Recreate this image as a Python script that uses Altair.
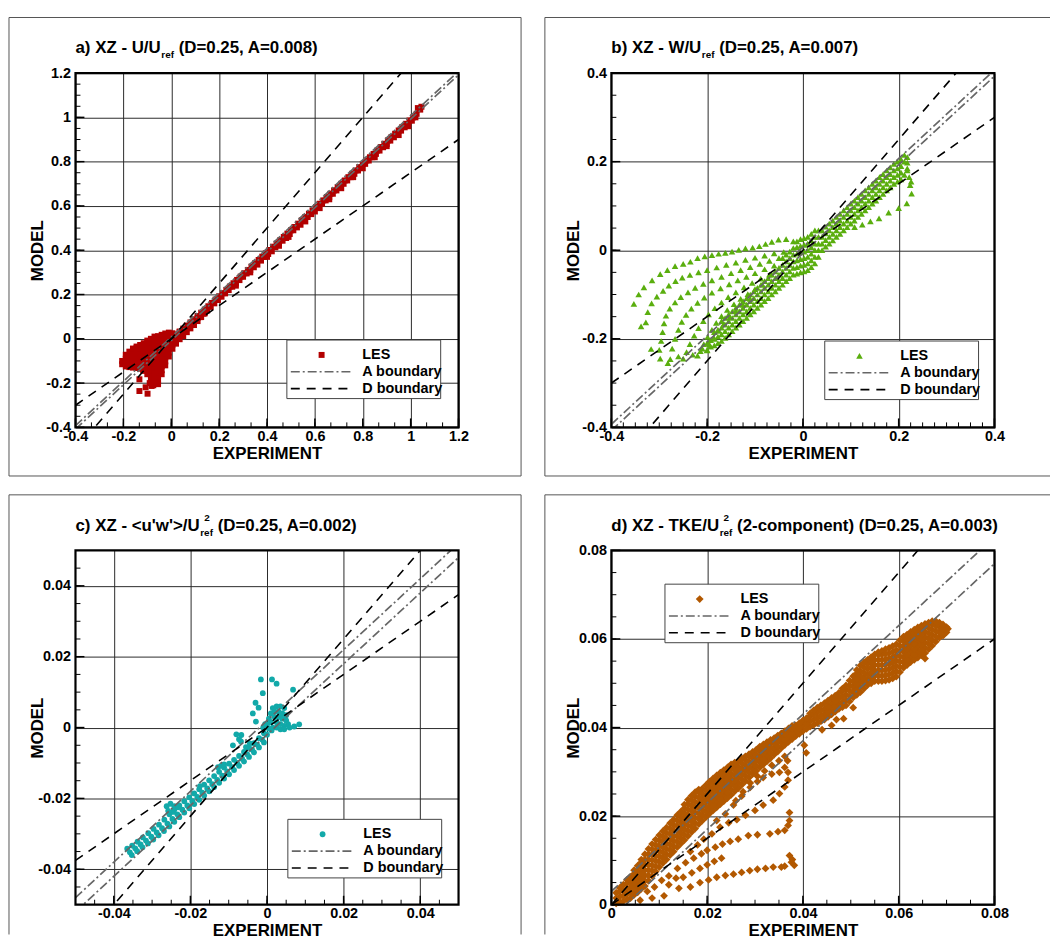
import altair as alt
import pandas as pd

FONT = "Liberation Sans"
W, H = 386, 357

# ---------------- tick label values ----------------
A_MAJOR = [-0.4, -0.2, 0, 0.2, 0.4, 0.6, 0.8, 1, 1.2]
B_MAJOR = [-0.4, -0.2, 0, 0.2, 0.4]
C_MAJOR = [-0.04, -0.02, 0, 0.02, 0.04]
D_MAJOR = [0, 0.02, 0.04, 0.06, 0.08]

# ---------------- panel a : U/Uref ----------------
A_BAND = [(0.02,0.02),(0.035,0.033),(0.05,0.046),(0.065,0.06),(0.08,0.074),(0.095,0.088),(0.11,0.103),
          (0.125,0.118),(0.14,0.132),(0.155,0.147),(0.17,0.162),(0.185,0.177),(0.2,0.192),(0.215,0.206),
          (0.23,0.221),(0.245,0.236),(0.26,0.251),(0.275,0.266),(0.29,0.281),(0.305,0.296),(0.32,0.311),
          (0.335,0.326),(0.35,0.341),(0.365,0.356),(0.38,0.371),(0.395,0.386),(0.41,0.401),(0.425,0.416),
          (0.44,0.43),(0.455,0.445),(0.47,0.46),(0.485,0.475),(0.5,0.49),(0.515,0.505),(0.53,0.52),
          (0.545,0.535),(0.56,0.55),(0.575,0.565),(0.59,0.58),(0.605,0.595),(0.62,0.61),(0.635,0.625),
          (0.65,0.64),(0.665,0.655),(0.68,0.67),(0.695,0.685),(0.71,0.7),(0.725,0.715),(0.74,0.73),
          (0.755,0.745),(0.77,0.76),(0.785,0.775),(0.8,0.79),(0.815,0.805),(0.83,0.82),(0.845,0.835),
          (0.86,0.85),(0.875,0.866),(0.89,0.881),(0.905,0.896),(0.92,0.911),(0.935,0.926),(0.95,0.941),
          (0.965,0.956),(0.98,0.971),(0.995,0.986),(1.01,1.0),(1.025,1.016),(1.04,1.035),(1.045,1.048),
          (1.03,1.042)]
A_BAND2 = [(0.03,0.005),(0.045,0.02),(0.06,0.035),(0.075,0.052),(0.09,0.068),(0.105,0.083),(0.12,0.098),
           (0.135,0.113),(0.15,0.128),(0.165,0.144),(0.18,0.16),(0.195,0.175),(0.21,0.19),(0.225,0.205),
           (0.24,0.22),(0.255,0.235),(0.27,0.25),(0.285,0.265),(0.3,0.28),(0.315,0.295),(0.33,0.31),
           (0.345,0.323),(0.36,0.335),(0.375,0.353),(0.39,0.37),(0.405,0.383),(0.42,0.395),(0.435,0.413),
           (0.45,0.43),(0.465,0.443),(0.48,0.455),(0.495,0.473),(0.51,0.49),(0.525,0.503),(0.54,0.515),
           (0.555,0.533),(0.57,0.55),(0.585,0.563),(0.6,0.575),(0.615,0.593),(0.63,0.61),(0.645,0.625),
           (0.66,0.64),(0.675,0.655),(0.69,0.67),(0.705,0.685),(0.72,0.7),(0.735,0.715),(0.75,0.73),
           (0.765,0.745),(0.78,0.76),(0.795,0.775),(0.81,0.79),(0.825,0.805),(0.84,0.82),(0.855,0.835),
           (0.87,0.85),(0.885,0.865),(0.9,0.88),(0.915,0.895),(0.93,0.91),(0.945,0.925),(0.96,0.94),
           (0.975,0.955),(0.99,0.97),(1.005,0.985),(1.02,1.0)]
A_TEETH = [(0.27,0.24),(0.33,0.3),(0.4,0.37),(0.45,0.42),(0.49,0.46),(0.56,0.53),(0.62,0.59),
           (0.66,0.63),(0.71,0.68),(0.76,0.73),(0.8,0.77),(0.85,0.82),(0.9,0.87),(0.95,0.92),(0.99,0.96)]
A_BLOB = [(-0.205, [-0.115, -0.1]),
          (-0.19, [-0.125, -0.108, -0.09, -0.072]),
          (-0.175, [-0.128, -0.11, -0.092, -0.074, -0.058]),
          (-0.16, [-0.13, -0.112, -0.094, -0.076, -0.058, -0.044]),
          (-0.145, [-0.132, -0.114, -0.096, -0.078, -0.06, -0.042, -0.035]),
          (-0.13, [-0.135, -0.117, -0.099, -0.081, -0.063, -0.045, -0.028]),
          (-0.115, [-0.145, -0.127, -0.109, -0.091, -0.073, -0.055, -0.037, -0.02]),
          (-0.1, [-0.16, -0.142, -0.124, -0.106, -0.088, -0.07, -0.052, -0.034, -0.016, -0.008]),
          (-0.085, [-0.18, -0.162, -0.144, -0.126, -0.108, -0.09, -0.072, -0.054, -0.036, -0.018, 0.0]),
          (-0.07, [-0.2, -0.182, -0.164, -0.146, -0.128, -0.11, -0.092, -0.074, -0.056, -0.038, -0.02, -0.002, 0.01]),
          (-0.055, [-0.205, -0.187, -0.169, -0.151, -0.133, -0.115, -0.097, -0.079, -0.061, -0.043, -0.025, -0.007, 0.012]),
          (-0.04, [-0.16, -0.142, -0.124, -0.106, -0.088, -0.07, -0.052, -0.034, -0.016, 0.002, 0.018]),
          (-0.025, [-0.12, -0.102, -0.084, -0.066, -0.048, -0.03, -0.012, 0.006, 0.024]),
          (-0.01, [-0.08, -0.062, -0.044, -0.026, -0.008, 0.01, 0.028]),
          (0.005, [-0.045, -0.027, -0.009, 0.009, 0.025]),
          (0.02, [-0.022, -0.004, 0.014]),
          (0.035, [-0.002, 0.016, 0.03]),
          (0.05, [0.012, 0.03]),
          (0.065, [0.03, 0.048]),
          (0.08, [0.047, 0.064]),
          (0.095, [0.062, 0.078]),
          (0.11, [0.08, 0.094]),
          (0.125, [0.098]),
          (0.14, [0.115])]
A_OUT = [(-0.133,-0.183),(-0.133,-0.236),(-0.107,-0.219),(-0.099,-0.248),(-0.082,-0.213),
         (-0.075,-0.21),(-0.117,-0.141),(-0.09,-0.2)]

# ---------------- panel b : W/Uref ----------------
B_FAN = [
    (-0.02,0.02),(-0.035,0.025),(-0.051,0.024),(-0.065,0.019),(-0.078,0.014),(-0.091,0.009),(-0.105,0.006),
    (-0.12,0.004),(-0.134,0.001),(-0.148,-0.003),(-0.162,-0.006),(-0.176,-0.008),(-0.19,-0.011),(-0.205,-0.014),
    (-0.22,-0.018),(-0.235,-0.026),(-0.25,-0.031),(-0.267,-0.036),(-0.283,-0.045),(-0.298,-0.054),(-0.315,-0.068),
    (-0.332,-0.084),(-0.343,-0.1),(-0.353,-0.121),
    (-0.04,-0.004),(-0.06,-0.007),(-0.08,-0.012),(-0.1,-0.017),(-0.12,-0.022),(-0.14,-0.028),(-0.16,-0.033),
    (-0.18,-0.039),(-0.2,-0.045),(-0.218,-0.05),(-0.236,-0.056),(-0.252,-0.062),(-0.266,-0.07),(-0.28,-0.08),
    (-0.292,-0.092),(-0.305,-0.105),(-0.316,-0.12),(-0.324,-0.14),(-0.328,-0.163),(-0.338,-0.172),
    (-0.05,-0.018),(-0.07,-0.024),(-0.09,-0.031),(-0.11,-0.038),(-0.13,-0.045),(-0.15,-0.052),(-0.17,-0.06),
    (-0.19,-0.068),(-0.208,-0.076),(-0.225,-0.085),(-0.24,-0.095),(-0.255,-0.106),(-0.267,-0.118),(-0.278,-0.132),
    (-0.286,-0.148),(-0.29,-0.165),(-0.293,-0.185),(-0.296,-0.205),(-0.3,-0.225),(-0.298,-0.245),(-0.317,-0.223),
    (-0.06,-0.035),(-0.08,-0.043),(-0.1,-0.052),(-0.118,-0.06),(-0.136,-0.068),(-0.154,-0.077),(-0.172,-0.086),
    (-0.19,-0.096),(-0.206,-0.107),(-0.22,-0.119),(-0.233,-0.132),(-0.244,-0.146),(-0.253,-0.162),(-0.26,-0.18),
    (-0.267,-0.2),(-0.273,-0.222),(-0.277,-0.246),(-0.282,-0.255),
    (-0.07,-0.055),(-0.088,-0.064),(-0.106,-0.074),(-0.123,-0.084),(-0.14,-0.095),(-0.156,-0.106),(-0.17,-0.118),
    (-0.184,-0.131),(-0.197,-0.145),(-0.208,-0.16),(-0.218,-0.176),(-0.227,-0.193),(-0.236,-0.212),(-0.243,-0.23),
    (-0.25,-0.245),(-0.26,-0.24),
    (-0.085,-0.078),(-0.1,-0.088),(-0.115,-0.099),(-0.13,-0.11),(-0.144,-0.122),(-0.158,-0.135),(-0.17,-0.149),
    (-0.181,-0.164),(-0.19,-0.18),(-0.199,-0.196),(-0.207,-0.212),(-0.214,-0.228),(-0.22,-0.238),(-0.23,-0.236),
    (-0.11,-0.11),(-0.125,-0.123),(-0.14,-0.137),(-0.153,-0.151),(-0.165,-0.166),(-0.176,-0.182),(-0.186,-0.198),
    (-0.195,-0.213),(-0.2,-0.226),(-0.21,-0.222)]
B_BAND = [(-0.2, [-0.225, -0.21]),
          (-0.185, [-0.215, -0.2, -0.185]),
          (-0.17, [-0.205, -0.19, -0.175, -0.16]),
          (-0.155, [-0.19, -0.175, -0.16, -0.145]),
          (-0.14, [-0.175, -0.16, -0.145, -0.13]),
          (-0.125, [-0.16, -0.145, -0.13, -0.115]),
          (-0.11, [-0.145, -0.13, -0.115, -0.1]),
          (-0.095, [-0.13, -0.115, -0.1, -0.085]),
          (-0.08, [-0.115, -0.1, -0.085, -0.07]),
          (-0.065, [-0.1, -0.085, -0.07, -0.055]),
          (-0.05, [-0.085, -0.07, -0.055, -0.04]),
          (-0.035, [-0.07, -0.055, -0.04, -0.025, -0.01]),
          (-0.02, [-0.055, -0.04, -0.025, -0.01, 0.005]),
          (-0.005, [-0.05, -0.035, -0.02, -0.005, 0.01, 0.025]),
          (0.01, [-0.045, -0.03, -0.015, 0.0, 0.015, 0.03]),
          (0.025, [-0.03, -0.015, 0.0, 0.015, 0.03, 0.045]),
          (0.04, [0.0, 0.015, 0.03, 0.045]),
          (0.055, [0.015, 0.03, 0.045, 0.06]),
          (0.07, [0.03, 0.045, 0.06, 0.075]),
          (0.085, [0.045, 0.06, 0.075, 0.09]),
          (0.1, [0.06, 0.075, 0.09, 0.105]),
          (0.115, [0.075, 0.09, 0.105, 0.12]),
          (0.13, [0.09, 0.105, 0.12, 0.135]),
          (0.145, [0.105, 0.12, 0.135, 0.15]),
          (0.16, [0.12, 0.135, 0.15, 0.165]),
          (0.175, [0.135, 0.15, 0.165, 0.18]),
          (0.19, [0.15, 0.165, 0.18, 0.195]),
          (0.205, [0.16, 0.175, 0.19, 0.205]),
          (0.218, [0.185, 0.198, 0.21])]
B_BAND2 = [(-0.1925, [-0.218, -0.203]),
           (-0.1775, [-0.21, -0.195, -0.18]),
           (-0.1625, [-0.198, -0.183, -0.168, -0.153]),
           (-0.1475, [-0.183, -0.168, -0.153, -0.138]),
           (-0.1325, [-0.168, -0.153, -0.138, -0.123]),
           (-0.1175, [-0.153, -0.138, -0.123, -0.108]),
           (-0.1025, [-0.138, -0.123, -0.108, -0.093]),
           (-0.0875, [-0.123, -0.108, -0.093, -0.078]),
           (-0.0725, [-0.108, -0.093, -0.078, -0.063]),
           (-0.0575, [-0.093, -0.078, -0.063, -0.048]),
           (-0.0425, [-0.078, -0.063, -0.048, -0.033, -0.018]),
           (-0.0275, [-0.063, -0.048, -0.033, -0.018, -0.003]),
           (-0.0125, [-0.053, -0.038, -0.023, -0.008, 0.007, 0.02]),
           (0.0025, [-0.048, -0.033, -0.018, -0.003, 0.012, 0.027]),
           (0.0175, [-0.038, -0.023, -0.008, 0.007, 0.022, 0.037]),
           (0.0325, [-0.015, 0.0, 0.015, 0.03, 0.045]),
           (0.0475, [0.008, 0.023, 0.038, 0.053]),
           (0.0625, [0.022, 0.037, 0.052, 0.067]),
           (0.0775, [0.037, 0.052, 0.067, 0.082]),
           (0.0925, [0.052, 0.067, 0.082, 0.097]),
           (0.1075, [0.067, 0.082, 0.097, 0.112]),
           (0.1225, [0.082, 0.097, 0.112, 0.127]),
           (0.1375, [0.097, 0.112, 0.127, 0.142]),
           (0.1525, [0.112, 0.127, 0.142, 0.157]),
           (0.1675, [0.127, 0.142, 0.157, 0.172]),
           (0.1825, [0.142, 0.157, 0.172, 0.187]),
           (0.1975, [0.155, 0.17, 0.185, 0.2]),
           (0.212, [0.17, 0.2, 0.215])]
B_LOOP = [(0.218,0.18),(0.222,0.165),(0.226,0.155),(0.224,0.147),(0.227,0.128),(0.217,0.106),(0.2,0.095),
          (0.179,0.085),(0.159,0.072),(0.141,0.065),(0.124,0.058),(0.108,0.052)]

# ---------------- panel c : <u'w'>/Uref^2 ----------------
C_ROW1 = [(-0.0365,-0.0342),(-0.0352,-0.0333),(-0.0338,-0.0322),(-0.0324,-0.031),(-0.031,-0.0298),
          (-0.0296,-0.0286),(-0.0282,-0.0274),(-0.0268,-0.026),(-0.0255,-0.0245),(-0.0242,-0.0232),
          (-0.0229,-0.022),(-0.0216,-0.0208),(-0.0203,-0.0197),(-0.019,-0.0186),(-0.0177,-0.0174),
          (-0.0164,-0.0161),(-0.0151,-0.0149),(-0.0138,-0.0137),(-0.0125,-0.0125),(-0.0112,-0.0113),
          (-0.0099,-0.0102),(-0.0086,-0.0091),(-0.0073,-0.008),(-0.006,-0.0069),(-0.0047,-0.0057),
          (-0.0034,-0.0044),(-0.0021,-0.003),(-0.0008,-0.0016),(0.0005,-0.0003)]
C_ROW2 = [(-0.0358,-0.0352),(-0.0344,-0.0341),(-0.033,-0.033),(-0.0316,-0.0319),(-0.0302,-0.0308),
          (-0.0288,-0.0296),(-0.0274,-0.0284),(-0.026,-0.0271),(-0.0247,-0.0258),(-0.0234,-0.0245),
          (-0.0221,-0.0232),(-0.0208,-0.022),(-0.0195,-0.0208),(-0.0182,-0.0196),(-0.0169,-0.0184),
          (-0.0156,-0.0172),(-0.0143,-0.016),(-0.013,-0.0148),(-0.0117,-0.0136),(-0.0104,-0.0124),
          (-0.0091,-0.0112),(-0.0078,-0.01),(-0.0065,-0.0088),(-0.0052,-0.0075),(-0.0039,-0.0062),
          (-0.0026,-0.0048),(-0.0013,-0.0034),(0.0,-0.002),(0.0012,-0.0008)]
C_ROW3 = [(-0.0353,-0.036),(-0.0339,-0.0349),(-0.0325,-0.0338),(-0.0311,-0.0327),(-0.0297,-0.0316),
          (-0.0283,-0.0304),(-0.0269,-0.0292),(-0.0255,-0.0279),(-0.0242,-0.0266),(-0.0229,-0.0253),
          (-0.0216,-0.024),(-0.0203,-0.0228),(-0.019,-0.0216),(-0.0177,-0.0204),(-0.0164,-0.0192),
          (-0.0151,-0.018),(-0.0138,-0.0168),(-0.0125,-0.0156),(-0.0112,-0.0144),(-0.0099,-0.0132),
          (-0.0086,-0.012),(-0.0073,-0.0108),(-0.006,-0.0096),(-0.0047,-0.0083),(-0.0034,-0.007),
          (-0.0021,-0.0056),(-0.0008,-0.0042)]
C_BUMPS = [(-0.0262,-0.0222),(-0.0252,-0.0215),(-0.0242,-0.0222),(-0.0232,-0.0225),(-0.0258,-0.0235),
           (-0.0245,-0.0238),(-0.0128,-0.0112),(-0.012,-0.0108),(-0.0112,-0.0104),(-0.0068,-0.0039),
           (-0.0175,-0.0165),(-0.0055,-0.0055),(-0.0045,-0.0045)]
C_TIP = [(-0.0005,0.001),(0.0005,0.0025),(0.001,0.004),(0.0015,0.0055),(0.0025,0.006),(0.0035,0.006),
         (0.0045,0.0055),(0.002,0.0045),(0.003,0.0045),(0.004,0.004),(0.005,0.0035),(0.001,0.0015),
         (0.002,0.003),(0.003,0.003),(0.004,0.0025),(0.005,0.002),(0.0055,0.001),(0.0045,0.0005),
         (0.0035,0.001),(0.0025,0.0015),(0.0015,0.0),(0.0025,0.0),(0.0035,-0.0005),(0.0045,-0.0005),
         (-0.001,0.0),(0.0,0.0008)]
C_OUT = [(-0.0016,0.0136),(0.0013,0.0136),(0.0025,0.0124),(-0.0011,0.0097),(0.0068,0.0107),(-0.003,0.007),
         (-0.0022,0.0056),(-0.0037,0.004),(0.0084,0.0009),(0.0071,0.0003),(-0.0067,-0.0021),(-0.0073,-0.0033),
         (-0.0089,-0.005),(-0.008,-0.0019),(-0.0029,0.0017),(0.0059,0.0)]

# ---------------- panel d : TKE/Uref^2 ----------------
D_BAND = [(0.001, [0.0003, 0.0015, 0.0027]),
          (0.0025, [0.0008, 0.002, 0.0032, 0.0045]),
          (0.004, [0.0015, 0.0027, 0.0039, 0.0051, 0.0063]),
          (0.0055, [0.0028, 0.004, 0.0052, 0.0064, 0.0076, 0.0088]),
          (0.007, [0.0042, 0.0054, 0.0066, 0.0078, 0.009, 0.0102, 0.0114]),
          (0.0085, [0.0065, 0.0077, 0.0089, 0.0101, 0.0113, 0.0125, 0.0137]),
          (0.01, [0.0085, 0.0097, 0.0109, 0.0121, 0.0133, 0.0145, 0.0157]),
          (0.0115, [0.0102, 0.0114, 0.0126, 0.0138, 0.015, 0.0162, 0.0174]),
          (0.013, [0.012, 0.0132, 0.0144, 0.0156, 0.0168, 0.018, 0.0192]),
          (0.0145, [0.0138, 0.015, 0.0162, 0.0174, 0.0186, 0.0198, 0.021]),
          (0.016, [0.0155, 0.0167, 0.0179, 0.0191, 0.0203, 0.0215, 0.0227, 0.0237]),
          (0.0175, [0.0172, 0.0184, 0.0196, 0.0208, 0.022, 0.0232, 0.0244, 0.0254]),
          (0.019, [0.019, 0.0202, 0.0214, 0.0226, 0.0238, 0.025, 0.0262]),
          (0.0205, [0.0206, 0.0218, 0.023, 0.0242, 0.0254, 0.0266, 0.0278]),
          (0.022, [0.022, 0.0232, 0.0244, 0.0256, 0.0268, 0.028, 0.0292]),
          (0.0235, [0.0234, 0.0246, 0.0258, 0.027, 0.0282, 0.0294, 0.0304]),
          (0.025, [0.0248, 0.026, 0.0272, 0.0284, 0.0296, 0.0308, 0.0317]),
          (0.0265, [0.0263, 0.0275, 0.0287, 0.0299, 0.0311, 0.0324]),
          (0.028, [0.0279, 0.0291, 0.0303, 0.0315, 0.0327, 0.0335]),
          (0.0295, [0.0295, 0.0307, 0.0319, 0.0331, 0.0345]),
          (0.031, [0.031, 0.0322, 0.0334, 0.0346, 0.0357]),
          (0.0325, [0.0324, 0.0336, 0.0348, 0.036, 0.0367]),
          (0.034, [0.0339, 0.0351, 0.0363, 0.0376]),
          (0.0355, [0.0354, 0.0366, 0.0378, 0.0387]),
          (0.037, [0.0368, 0.038, 0.0392, 0.0398]),
          (0.0385, [0.0381, 0.0393, 0.0405]),
          (0.04, [0.0392, 0.0404, 0.0416]),
          (0.0415, [0.0402, 0.0414, 0.0426, 0.0432]),
          (0.043, [0.041, 0.0422, 0.0434, 0.0445]),
          (0.0445, [0.0418, 0.043, 0.0442, 0.0455]),
          (0.046, [0.043, 0.0442, 0.0454, 0.0467]),
          (0.0475, [0.0442, 0.0454, 0.0466, 0.0478]),
          (0.049, [0.045, 0.0462, 0.0474, 0.0486, 0.0495]),
          (0.0505, [0.0468, 0.048, 0.0492, 0.0504, 0.0516]),
          (0.052, [0.048, 0.0492, 0.0504, 0.0516, 0.0528, 0.054]),
          (0.0535, [0.0496, 0.0508, 0.052, 0.0532, 0.0544, 0.0553]),
          (0.055, [0.0505, 0.0517, 0.0529, 0.0541, 0.0553, 0.0565]),
          (0.0565, [0.0505, 0.0517, 0.0529, 0.0541, 0.0553, 0.0565, 0.0573]),
          (0.058, [0.0508, 0.052, 0.0532, 0.0544, 0.0556, 0.0568, 0.058]),
          (0.0595, [0.0515, 0.0527, 0.0539, 0.0551, 0.0563, 0.0575, 0.0588]),
          (0.061, [0.0535, 0.0547, 0.0559, 0.0571, 0.0583, 0.0595, 0.0605]),
          (0.0625, [0.0548, 0.056, 0.0572, 0.0584, 0.0596, 0.0608, 0.0616]),
          (0.064, [0.0558, 0.057, 0.0582, 0.0594, 0.0606, 0.0618, 0.0626]),
          (0.0655, [0.0568, 0.058, 0.0592, 0.0604, 0.0616, 0.0628, 0.0634]),
          (0.067, [0.0585, 0.0597, 0.0609, 0.0621, 0.0633, 0.064]),
          (0.0685, [0.0603, 0.0615, 0.0627, 0.0637]),
          (0.07, [0.0615, 0.0627])]
D_BAND2 = [(0.00175, [0.0006, 0.0018, 0.003, 0.0038]),
           (0.00325, [0.0012, 0.0024, 0.0036, 0.0048, 0.0056]),
           (0.00475, [0.0022, 0.0034, 0.0046, 0.0058, 0.007, 0.0078]),
           (0.00625, [0.0036, 0.0048, 0.006, 0.0072, 0.0084, 0.0096, 0.0102]),
           (0.00775, [0.0054, 0.0066, 0.0078, 0.009, 0.0102, 0.0114, 0.0126]),
           (0.00925, [0.0075, 0.0087, 0.0099, 0.0111, 0.0123, 0.0135, 0.0147]),
           (0.01075, [0.0094, 0.0106, 0.0118, 0.013, 0.0142, 0.0154, 0.0166]),
           (0.01225, [0.0112, 0.0124, 0.0136, 0.0148, 0.016, 0.0172, 0.0184]),
           (0.01375, [0.013, 0.0142, 0.0154, 0.0166, 0.0178, 0.019, 0.0202]),
           (0.01525, [0.0146, 0.0158, 0.017, 0.0182, 0.0194, 0.0206, 0.0218, 0.0226]),
           (0.01675, [0.0164, 0.0176, 0.0188, 0.02, 0.0212, 0.0224, 0.0236, 0.0246]),
           (0.01825, [0.0182, 0.0194, 0.0206, 0.0218, 0.023, 0.0242, 0.0254, 0.026]),
           (0.01975, [0.0198, 0.021, 0.0222, 0.0234, 0.0246, 0.0258, 0.027]),
           (0.02125, [0.0213, 0.0225, 0.0237, 0.0249, 0.0261, 0.0273, 0.0285]),
           (0.02275, [0.0227, 0.0239, 0.0251, 0.0263, 0.0275, 0.0287, 0.0298]),
           (0.02425, [0.0241, 0.0253, 0.0265, 0.0277, 0.0289, 0.0301, 0.031]),
           (0.02575, [0.0256, 0.0268, 0.028, 0.0292, 0.0304, 0.0316, 0.0321]),
           (0.02725, [0.0271, 0.0283, 0.0295, 0.0307, 0.0319, 0.033]),
           (0.02875, [0.0287, 0.0299, 0.0311, 0.0323, 0.0335, 0.034]),
           (0.03025, [0.0302, 0.0314, 0.0326, 0.0338, 0.035]),
           (0.03175, [0.0317, 0.0329, 0.0341, 0.0353, 0.0362]),
           (0.03325, [0.0331, 0.0343, 0.0355, 0.0367, 0.0372]),
           (0.03475, [0.0346, 0.0358, 0.037, 0.0382]),
           (0.03625, [0.0361, 0.0373, 0.0385, 0.0392]),
           (0.03775, [0.0374, 0.0386, 0.0398, 0.0404]),
           (0.03925, [0.0386, 0.0398, 0.041]),
           (0.04075, [0.0397, 0.0409, 0.0421]),
           (0.04225, [0.0406, 0.0418, 0.043, 0.0439]),
           (0.04375, [0.0414, 0.0426, 0.0438, 0.045]),
           (0.04525, [0.0424, 0.0436, 0.0448, 0.0461]),
           (0.04675, [0.0436, 0.0448, 0.046, 0.0472]),
           (0.04825, [0.0446, 0.0458, 0.047, 0.0482, 0.0488]),
           (0.04975, [0.0459, 0.0471, 0.0483, 0.0495, 0.0506]),
           (0.05125, [0.0474, 0.0486, 0.0498, 0.051, 0.0522, 0.053]),
           (0.05275, [0.0488, 0.05, 0.0512, 0.0524, 0.0536, 0.0547]),
           (0.05425, [0.05, 0.0512, 0.0524, 0.0536, 0.0548, 0.0559]),
           (0.05575, [0.0505, 0.0517, 0.0529, 0.0541, 0.0553, 0.0565, 0.057]),
           (0.05725, [0.0506, 0.0518, 0.053, 0.0542, 0.0554, 0.0566, 0.0577]),
           (0.05875, [0.0511, 0.0523, 0.0535, 0.0547, 0.0559, 0.0571, 0.0584]),
           (0.06025, [0.0525, 0.0537, 0.0549, 0.0561, 0.0573, 0.0585, 0.0597]),
           (0.06175, [0.0541, 0.0553, 0.0565, 0.0577, 0.0589, 0.0601, 0.061]),
           (0.06325, [0.0553, 0.0565, 0.0577, 0.0589, 0.0601, 0.0613, 0.0621]),
           (0.06475, [0.0563, 0.0575, 0.0587, 0.0599, 0.0611, 0.0623, 0.063]),
           (0.06625, [0.0577, 0.0589, 0.0601, 0.0613, 0.0625, 0.0637]),
           (0.06775, [0.0594, 0.0606, 0.0618, 0.063, 0.064]),
           (0.06925, [0.0609, 0.0621, 0.0633])]
D_FAN = [
    (0.006,0.001),(0.0085,0.0015),(0.011,0.002),(0.0141,0.0037),(0.0165,0.004),(0.0185,0.005),(0.0203,0.0056),
    (0.022,0.0062),(0.0238,0.0066),(0.0255,0.0069),(0.0272,0.0073),(0.0289,0.0077),(0.0305,0.008),(0.0322,0.0082),
    (0.0338,0.0085),(0.0355,0.0085),(0.0362,0.0087),(0.0376,0.0096),(0.0382,0.0089),(0.0372,0.0111),(0.0378,0.0102),
    (0.012,0.0065),(0.0138,0.0082),(0.0155,0.0095),(0.0172,0.0105),(0.0188,0.0115),(0.02,0.0123),(0.0217,0.013),
    (0.0232,0.0137),(0.0248,0.0143),(0.0265,0.0148),(0.0286,0.0156),(0.0305,0.0158),(0.0331,0.016),(0.0348,0.0165),
    (0.0362,0.0168),(0.0369,0.0179),(0.0372,0.019),(0.0372,0.0208),
    (0.0165,0.012),(0.018,0.0135),(0.0193,0.0148),(0.021,0.016),(0.0227,0.0175),(0.0245,0.0185),(0.0262,0.0192),
    (0.028,0.0202),(0.03,0.0213),(0.0317,0.0225),(0.0338,0.0236),(0.0351,0.0251),(0.0362,0.0266),(0.0369,0.0281),
    (0.0369,0.0299),
    (0.022,0.019),(0.0238,0.0205),(0.0255,0.0225),(0.0272,0.0245),(0.029,0.0265),(0.0305,0.0278),(0.0317,0.0287),
    (0.0335,0.0295),(0.0351,0.0299),(0.0362,0.031),(0.0368,0.0325),
    (0.026,0.0235),(0.0275,0.0255),(0.029,0.0275),(0.0305,0.029),(0.032,0.0302),(0.0335,0.0315),(0.035,0.0325),
    (0.0362,0.0335),
    (0.015,0.0062),(0.0168,0.0072),(0.0185,0.0082),(0.02,0.009),(0.0215,0.0098),(0.023,0.0105),
    (0.0075,0.003),(0.009,0.004),(0.0105,0.0055),(0.012,0.0045),(0.0135,0.006),
    (0.044,0.0395),(0.046,0.0405),(0.0485,0.042),(0.0505,0.0445),(0.047,0.0418),(0.0407,0.0343),(0.0403,0.036),
    (0.0655,0.0556),(0.0703,0.0623),(0.0693,0.0608)]


def expand(cols):
    return [(x, y) for x, ys in cols for y in ys]


def minor(lo, hi, n):
    return [round(lo + (hi - lo) * i / n, 6) for i in range(1, n)]


# Arial/Liberation Sans Bold advance widths (1/1000 em) for title layout
ADV = {' ': 278, '(': 333, ')': 333, ',': 278, '-': 333, '.': 278, '/': 278, '=': 584, '<': 584, '>': 584,
       "'": 238, 'A': 722, 'D': 722, 'E': 667, 'K': 722, 'T': 611, 'U': 722, 'W': 944, 'X': 667, 'Z': 611,
       'a': 556, 'b': 611, 'c': 556, 'd': 611, 'e': 556, 'f': 333, 'm': 889, 'n': 611, 'o': 611, 'p': 611,
       'r': 389, 't': 333, 'u': 611, 'w': 778}


def tw(s, size):
    return sum(ADV.get(ch, 556) for ch in s) * size / 1000.0


TSIZE = 17
PANELS = [
    dict(dom=[-0.4, 1.2], major=A_MAJOR, nx=24, ny=32, D=0.25, A=0.008, color="#B20000", shape="square",
         size=36, pts=A_BAND + A_BAND2 + A_TEETH + expand(A_BLOB) + A_OUT, leg=(213, 269),
         title=("a) XZ - U/U", None, "(D=0.25, A=0.008)"), frame="a"),
    dict(dom=[-0.4, 0.4], major=B_MAJOR, nx=32, ny=16, D=0.25, A=0.007, color="#5AAE0E", shape="triangle-up",
         size=44, pts=B_FAN + expand(B_BAND) + expand(B_BAND2) + B_LOOP, leg=(215, 270),
         title=("b) XZ - W/U", None, "(D=0.25, A=0.007)"), frame="b"),
    dict(dom=[-0.05, 0.05], major=C_MAJOR, nx=20, ny=20, D=0.25, A=0.002, color="#12A9A9", shape="circle",
         size=34, pts=C_ROW1 + C_ROW2 + C_ROW3 + C_BUMPS + C_TIP + C_OUT, leg=(214, 271),
         title=("c) XZ - <u'w'>/U", "2", "(D=0.25, A=0.002)"), frame="c"),
    dict(dom=[0, 0.08], major=D_MAJOR, nx=16, ny=16, D=0.25, A=0.003, color="#B25800", shape="diamond",
         size=62, pts=expand(D_BAND) + expand(D_BAND2) + D_FAN, leg=(54, 34),
         title=("d) XZ - TKE/U", "2", "(2-component) (D=0.25, A=0.003)"), frame="d"),
]

ONE = alt.Data(values=[{}])


def text(x, y, s, size, align="left", baseline="alphabetic"):
    return alt.Chart(ONE).mark_text(align=align, baseline=baseline, font=FONT, fontWeight="bold",
                                    fontSize=size, color="black").encode(
        x=alt.value(x), y=alt.value(y), text=alt.value(s))


def hrule(x1, x2, y, color="#555", width=1, dash=None):
    kw = dict(color=color, strokeWidth=width)
    if dash:
        kw["strokeDash"] = dash
    return alt.Chart(ONE).mark_rule(**kw).encode(x=alt.value(x1), x2=alt.value(x2), y=alt.value(y))


def vrule(x, y1, y2, color="#555", width=1):
    return alt.Chart(ONE).mark_rule(color=color, strokeWidth=width).encode(
        x=alt.value(x), y=alt.value(y1), y2=alt.value(y2))


A_DASH = [9, 3, 2, 3]
D_DASH = [9, 7]


def panel(cfg):
    lo, hi = cfg["dom"]
    xs = alt.Scale(domain=[lo, hi], nice=False, zero=False)
    ys = alt.Scale(domain=[lo, hi], nice=False, zero=False)
    common = dict(values=cfg["major"], grid=True, gridColor="#2a2a2a", gridWidth=1, domain=False, ticks=False,
                  tickSize=0, labelFont=FONT, labelFontWeight="bold", labelFontSize=14.5, labelColor="black",
                  labelExpr="'' + datum.value", labelOverlap=False, labelFlush=False,
                  titleFont=FONT, titleFontWeight="bold", titleFontSize=17, titleColor="black")
    xaxis = alt.Axis(title="EXPERIMENT", labelPadding=2, titleX=W / 2, titleY=26, titleBaseline="middle",
                     titleAlign="center", **common)
    yaxis = alt.Axis(title="MODEL", labelPadding=5, titleX=-38, titleY=H / 2, titleAngle=270,
                     titleBaseline="middle", titleAlign="center", **common)
    X = lambda f: alt.X(f, scale=xs, axis=xaxis)
    Y = lambda f: alt.Y(f, scale=ys, axis=yaxis)

    layers = []
    # inward ticks on the bottom and left axes
    mx = pd.DataFrame({"v": minor(lo, hi, cfg["nx"])})
    my = pd.DataFrame({"v": minor(lo, hi, cfg["ny"])})
    mj = pd.DataFrame({"v": cfg["major"]})
    layers.append(alt.Chart(mx).mark_rule(color="black", strokeWidth=1).encode(
        x=X("v:Q"), y=alt.value(H), y2=alt.value(H - 5)))
    layers.append(alt.Chart(my).mark_rule(color="black", strokeWidth=1).encode(
        y=Y("v:Q"), x=alt.value(0), x2=alt.value(5)))
    layers.append(alt.Chart(mj).mark_rule(color="black", strokeWidth=1.5).encode(
        x=X("v:Q"), y=alt.value(H), y2=alt.value(H - 9)))
    layers.append(alt.Chart(mj).mark_rule(color="black", strokeWidth=1.5).encode(
        y=Y("v:Q"), x=alt.value(0), x2=alt.value(9)))

    # scatter
    pts = pd.DataFrame(cfg["pts"], columns=["x", "y"])
    layers.append(alt.Chart(pts).mark_point(shape=cfg["shape"], filled=True, size=cfg["size"],
                                            color=cfg["color"], opacity=1).encode(x=X("x:Q"), y=Y("y:Q")))

    # boundaries
    D, A = cfg["D"], cfg["A"]
    a_lines = pd.DataFrame([
        {"k": "up", "x": lo, "y": lo + A}, {"k": "up", "x": hi, "y": hi + A},
        {"k": "dn", "x": lo, "y": lo - A}, {"k": "dn", "x": hi, "y": hi - A}])
    d_lines = pd.DataFrame([
        {"k": "up", "x": lo, "y": (1 + D) * lo}, {"k": "up", "x": hi, "y": (1 + D) * hi},
        {"k": "dn", "x": lo, "y": (1 - D) * lo}, {"k": "dn", "x": hi, "y": (1 - D) * hi}])
    layers.append(alt.Chart(a_lines).mark_line(color="#666666", strokeWidth=1.7, strokeDash=A_DASH,
                                               clip=True).encode(x=X("x:Q"), y=Y("y:Q"), detail="k:N"))
    layers.append(alt.Chart(d_lines).mark_line(color="black", strokeWidth=1.6, strokeDash=D_DASH,
                                               clip=True).encode(x=X("x:Q"), y=Y("y:Q"), detail="k:N"))

    # plot border
    layers.append(alt.Chart(ONE).mark_rect(fillOpacity=0, stroke="black", strokeWidth=2.2).encode(
        x=alt.value(0), x2=alt.value(W), y=alt.value(0), y2=alt.value(H)))

    # legend
    L, T = cfg["leg"]
    layers.append(alt.Chart(ONE).mark_rect(fill="white", stroke="#444", strokeWidth=1).encode(
        x=alt.value(L), x2=alt.value(L + 155), y=alt.value(T), y2=alt.value(T + 59)))
    layers.append(alt.Chart(ONE).mark_point(shape=cfg["shape"], filled=True, size=cfg["size"],
                                            color=cfg["color"], opacity=1).encode(
        x=alt.value(L + 35), y=alt.value(T + 15)))
    layers.append(hrule(L + 4, L + 65, T + 32, color="#666666", width=1.6, dash=A_DASH))
    layers.append(hrule(L + 4, L + 65, T + 49, color="black", width=1.6, dash=D_DASH))
    for s, dy in (("LES", 15), ("A boundary", 32), ("D boundary", 49)):
        layers.append(text(L + 76, T + dy, s, 14.5, baseline="middle"))

    # title with subscript / superscript
    main, sup, rest = cfg["title"]
    x1 = tw(main, TSIZE) + 0.5
    layers.append(text(0, -20, main, TSIZE))
    layers.append(text(x1, -15, "ref", 10))
    if sup:
        layers.append(text(x1 + 4, -30, sup, 10))
    layers.append(text(x1 + tw("ref", 10) + tw(" ", TSIZE), -20, rest, TSIZE))

    # outer frame
    fl, ft = -67, -56
    f = cfg["frame"]
    fr = W + 63 if f in ("a", "c") else 442
    fb = H + 49 if f in ("a", "b") else H + 30
    layers.append(hrule(fl, fr, ft))
    layers.append(vrule(fl, ft, fb))
    if f in ("a", "c"):
        layers.append(vrule(fr, ft, fb))
    if f in ("a", "b"):
        layers.append(hrule(fl, fr, fb))

    return alt.layer(*layers).properties(width=W, height=H)


pa, pb, pc, pd_ = [panel(c) for c in PANELS]
chart = alt.vconcat(
    alt.hconcat(pa, pb, spacing=22),
    alt.hconcat(pc, pd_, spacing=22),
    spacing=17,
).properties(
    padding={"left": 0, "top": 5, "right": 0, "bottom": 0},
    background="white",
).configure_view(stroke=None)

chart.save("out.html", embed_options={"renderer": "svg", "actions": False})
